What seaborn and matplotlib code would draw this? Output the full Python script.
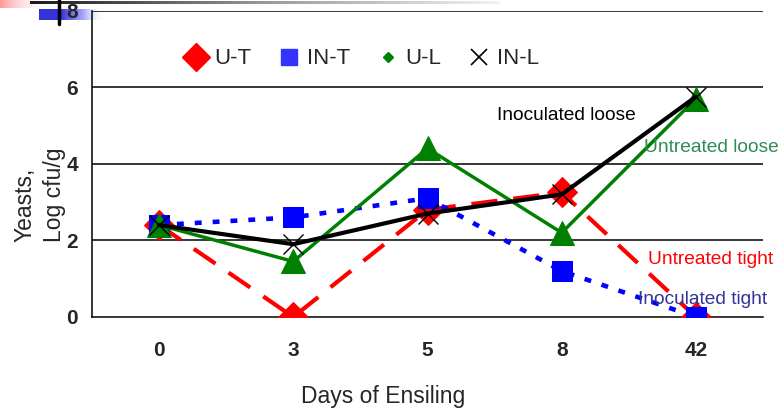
import numpy as np
import pandas as pd
import matplotlib
matplotlib.use("Agg")
import matplotlib.pyplot as plt
import seaborn as sns
from matplotlib.lines import Line2D
from matplotlib.colors import LinearSegmentedColormap

days = ["0", "3", "5", "8", "42"]
u_t = [2.4, 0.0, 2.8, 3.25, 0.0]
in_t = [2.4, 2.6, 3.1, 1.2, 0.0]
u_l = [2.4, 1.45, 4.4, 2.2, 5.7]
in_l = [2.4, 1.9, 2.7, 3.2, 5.75]
series_names = ["U-T", "IN-T", "U-L", "IN-L"]
y_ticks = [0, 2, 4, 6, 8]

sns.set_theme(style="white")
plt.rcParams['font.family'] = ['Liberation Sans', 'DejaVu Sans']

fig = plt.figure(figsize=(7.84, 4.12), dpi=100)

# slide decoration top-left (drawn beneath the chart)
deco = fig.add_axes([0, 0, 1, 1], zorder=0)
deco.set_xlim(0, 784)
deco.set_ylim(412, 0)
deco.axis("off")
grad = np.linspace(0, 1, 256).reshape(1, -1)
pink = LinearSegmentedColormap.from_list("p", [(1, 0.6, 0.6, 1), (1, 0.85, 0.85, 0.6), (1, 1, 1, 0)])
blue = LinearSegmentedColormap.from_list("b", [(0.2, 0.2, 0.85, 1), (0.2, 0.2, 0.85, 1), (0.4, 0.4, 0.95, 0.6), (1, 1, 1, 0)])
dark = LinearSegmentedColormap.from_list("d", [(0.1, 0.1, 0.1, 1), (0.6, 0.6, 0.6, 1), (0.95, 0.95, 0.95, 1)])
deco.imshow(grad, cmap=pink, extent=[0, 55, 8, 0], aspect="auto")
deco.imshow(grad, cmap=blue, extent=[39, 105, 20, 9], aspect="auto")
deco.imshow(grad, cmap=dark, extent=[30, 500, 4, 1.5], aspect="auto")
deco.plot([59, 59], [0, 24], color="black", lw=2.5)

ax = fig.add_axes([92/784, 1-317/412, (763-92)/784, (317-10.5)/412], zorder=1)
ax.patch.set_alpha(0)

pos = np.arange(len(days))
df = pd.DataFrame({"pos": pos, "U-T": u_t, "IN-T": in_t, "U-L": u_l, "IN-L": in_l})

for yv in y_ticks[1:]:
    ax.axhline(yv, color="black", lw=1.1, zorder=1)

sns.lineplot(data=df, x="pos", y="U-T", ax=ax, color="#FF0000", lw=3,
             marker="D", markersize=15, markeredgecolor="#FF0000", zorder=3)
ax.lines[-1].set_dashes([6.3, 3.8])
sns.lineplot(data=df, x="pos", y="IN-T", ax=ax, color="#0000FF", lw=3.3,
             marker="s", markersize=15, markeredgecolor="#0000FF", zorder=4)
ax.lines[-1].set_dashes([1.5, 2.4])
sns.lineplot(data=df, x="pos", y="U-L", ax=ax, color="#008000", lw=2.5,
             marker="^", markersize=17, markeredgecolor="#008000", zorder=5)
sns.lineplot(data=df, x="pos", y="IN-L", ax=ax, color="black", lw=3,
             marker="x", markersize=15, markeredgewidth=1, markeredgecolor="black", zorder=6)

ax.set_xlim(-0.5, len(days) - 0.5)
ax.set_ylim(0, 8)
ax.set_xticks(pos)
ax.set_xticklabels(days, fontsize=15, fontweight="bold")
ax.set_yticks(y_ticks)
ax.set_yticklabels([str(v) for v in y_ticks], fontsize=15, fontweight="bold")
ax.set_xticks(np.arange(len(days) + 1) - 0.5, minor=True)
ax.tick_params(axis="x", which="major", length=0, pad=17)
ax.tick_params(axis="x", which="minor", length=6, width=1, color="black", direction="out")
ax.tick_params(axis="y", length=5, width=1, color="black", direction="out", pad=5)
for s in ["top", "right"]:
    ax.spines[s].set_visible(False)
for s in ["left", "bottom"]:
    ax.spines[s].set_color("black")
    ax.spines[s].set_linewidth(1.1)
ax.set_xlabel("")
ax.set_ylabel("")

fig.text(383/784, 1-396/412, "Days of Ensiling", fontsize=16.5, ha="center", va="center")
fig.text(40/784, 1-242/412, "Yeasts,\nLog cfu/g", fontsize=16.5, rotation=90,
         ha="center", va="bottom", multialignment="left", linespacing=1.35)

handles = [
    Line2D([], [], ls="none", marker="D", color="#FF0000", markersize=14),
    Line2D([], [], ls="none", marker="s", color="#3333FF", markersize=11),
    Line2D([], [], ls="none", marker="D", color="#008000", markersize=5),
    Line2D([], [], ls="none", marker="x", color="black", markersize=11, markeredgewidth=1.2),
]
ax.legend(handles, series_names, loc="center", bbox_to_anchor=(362/784, 1-59/412),
          bbox_transform=fig.transFigure, ncol=4, frameon=False, fontsize=16,
          handletextpad=0.3, columnspacing=1.2, handlelength=1.0)

fig.text(497/784, 1-115/412, "Inoculated loose", fontsize=13.8, color="black", va="center", ha="left")
fig.text(644/784, 1-148/412, "Untreated loose", fontsize=13.8, color="#2E8B57", va="center", ha="left")
fig.text(648/784, 1-260/412, "Untreated tight", fontsize=13.8, color="#FF0000", va="center", ha="left")
fig.text(638/784, 1-299/412, "Inoculated tight", fontsize=13.8, color="#333399", va="center", ha="left")

fig.savefig("out.png", dpi=100)
